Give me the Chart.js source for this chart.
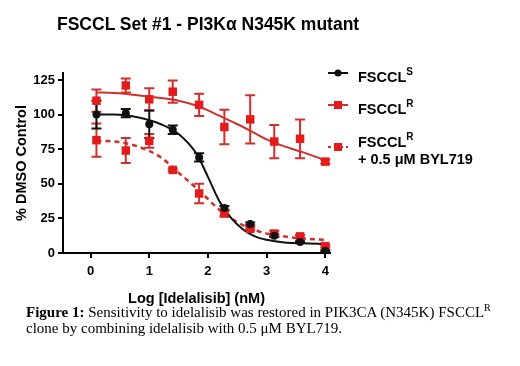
<!DOCTYPE html>
<html>
<head>
<meta charset="utf-8">
<script src="https://cdn.jsdelivr.net/npm/chart.js@4.4.0/dist/chart.umd.min.js"></script>
<style>
    body { margin: 0; background: #fff; }
    #wrap { position: relative; width: 520px; height: 366px; overflow: hidden; font-family: "Liberation Sans", Arial, sans-serif; }
    #chart { position: absolute; left: 0; top: 0; }
    .txt { position: absolute; white-space: nowrap; color: #000; }
    #title { left: 57px; top: 14px; font-size: 17.5px; font-weight: bold; }
    .leg { font-size: 14.5px; font-weight: bold; left: 358px; line-height: 17px; }
    .leg sup { font-size: 10px; position: relative; top: -1px; }
    #caption { left: 26px; top: 300px; font-family: "Liberation Serif", "Times New Roman", serif; font-size: 15px; line-height: 16px; }
    #caption sup { font-size: 10px; }
</style>
</head>
<body>
<div id="wrap">
    <canvas id="chart" width="520" height="366"></canvas>
    <div class="txt" id="title">FSCCL Set #1 - PI3K&alpha; N345K mutant</div>
    <div class="txt leg" style="top:64px">FSCCL<sup>S</sup></div>
    <div class="txt leg" style="top:96px">FSCCL<sup>R</sup></div>
    <div class="txt leg" style="top:129px">FSCCL<sup>R</sup><br>+ 0.5 &mu;M BYL719</div>
    <div class="txt" id="caption"><b>Figure 1:</b> Sensitivity to idelalisib was restored in PIK3CA (N345K) FSCCL<sup>R</sup><br>clone by combining idelalisib with 0.5 &mu;M BYL719.</div>
</div>
<script>
// measured points (log nM)
var logConc = [0.1, 0.6, 1.0, 1.4, 1.85, 2.28, 2.72, 3.13, 3.57, 4.0];

var sensMean = [100, 101, 93, 89, 69, 32.5, 21, 12.5, 8, 1.5];
var sensErr = [10, 3, 10, 3, 3, 1.5, 1, 1, 0.5, 0.5];

var resMean = [110, 121, 111, 116.5, 107, 91, 96.5, 80.5, 82.5, 66];
var resErr = [8, 5, 8, 8, 8, 12.5, 17.5, 12, 14, 1.5];

var combMean = [81.5, 74, 81, 60, 43, 28.5, 17.5, 14, 12, 5];
var combErr = [12, 9, 5, 1, 7, 2, 1, 2, 1, 1];

// fitted curves
var curveX = [0.1, 0.4, 0.8, 1.2, 1.5, 1.8, 2.0, 2.2, 2.4, 2.6, 2.8, 3.0, 3.3, 3.6, 4.0];
var sensCurve = [100, 100, 98, 93, 86, 72, 55, 37, 25, 17, 12, 9.5, 7.5, 7, 6.5];
var resCurve = [116, 115.5, 114, 112, 110, 106.5, 103, 99, 95, 91, 86.5, 82, 77, 73, 67];
var combCurve = [81, 80.5, 77, 69, 58, 47, 39, 31, 25, 20, 16.5, 14, 12, 10.5, 9.5];

var xTicks = [0, 1, 2, 3, 4];
var yTicks = [0, 25, 50, 75, 100, 125];

var black = '#111111';
var red = '#e31b1b';
var darkRed = '#d0302c';

function pts(xs, ys) {
    return xs.map(function (x, i) { return { x: x, y: ys[i] }; });
}

// draws error bars for the point datasets
var errorBars = {
    id: 'errorBars',
    beforeDatasetsDraw: function (chart) {
        var ctx = chart.ctx;
        var xs = chart.scales.x, ys = chart.scales.y;
        chart.data.datasets.forEach(function (ds) {
            if (!ds.errors) return;
            ctx.save();
            ctx.strokeStyle = ds.errorColor;
            ctx.lineWidth = 2;
            ds.data.forEach(function (p, i) {
                var e = ds.errors[i];
                var px = xs.getPixelForValue(p.x);
                var top = ys.getPixelForValue(p.y + e);
                var bot = ys.getPixelForValue(p.y - e);
                ctx.beginPath();
                ctx.moveTo(px, top); ctx.lineTo(px, bot);
                ctx.moveTo(px - 5, top); ctx.lineTo(px + 5, top);
                ctx.moveTo(px - 5, bot); ctx.lineTo(px + 5, bot);
                ctx.stroke();
            });
            ctx.restore();
        });
    }
};

// legend samples next to the html labels
var legendMarks = {
    id: 'legendMarks',
    afterDraw: function (chart) {
        var ctx = chart.ctx;
        function sample(y, color, dash, style) {
            ctx.save();
            ctx.strokeStyle = color;
            ctx.lineWidth = 2;
            ctx.setLineDash(dash);
            ctx.beginPath();
            ctx.moveTo(328, y); ctx.lineTo(348, y);
            ctx.stroke();
            ctx.setLineDash([]);
            ctx.fillStyle = style === 'circle' ? black : red;
            ctx.beginPath();
            if (style === 'circle') ctx.arc(338, y, 3.5, 0, Math.PI * 2);
            else ctx.rect(334, y - 4, 8, 8);
            ctx.fill();
            ctx.restore();
        }
        sample(73, black, [], 'circle');
        sample(105, darkRed, [], 'rect');
        sample(147, darkRed, [3, 3], 'rect');
    }
};

var ctx = document.getElementById('chart').getContext('2d');

var doseChart = new Chart(ctx, {
    type: 'scatter',
    data: {
        datasets: [
            {
                label: 'FSCCL S fit',
                data: pts(curveX, sensCurve),
                showLine: true,
                borderColor: black,
                borderWidth: 2,
                pointRadius: 0,
                cubicInterpolationMode: 'monotone',
                order: 5
            },
            {
                label: 'FSCCL R fit',
                data: pts(curveX, resCurve),
                showLine: true,
                borderColor: darkRed,
                borderWidth: 2,
                pointRadius: 0,
                cubicInterpolationMode: 'monotone',
                order: 5
            },
            {
                label: 'FSCCL R + BYL719 fit',
                data: pts(curveX, combCurve),
                showLine: true,
                borderColor: darkRed,
                borderWidth: 2.5,
                borderDash: [5, 4],
                pointRadius: 0,
                cubicInterpolationMode: 'monotone',
                order: 5
            },
            {
                label: 'FSCCL R + 0.5 uM BYL719',
                data: pts(logConc, combMean),
                errors: combErr,
                errorColor: darkRed,
                pointStyle: 'rect',
                pointRadius: 6,
                backgroundColor: red,
                borderColor: red,
                borderWidth: 0,
                order: 3
            },
            {
                label: 'FSCCL R',
                data: pts(logConc, resMean),
                errors: resErr,
                errorColor: darkRed,
                pointStyle: 'rect',
                pointRadius: 6,
                backgroundColor: red,
                borderColor: red,
                borderWidth: 0,
                order: 2
            },
            {
                label: 'FSCCL S',
                data: pts(logConc, sensMean),
                errors: sensErr,
                errorColor: black,
                pointStyle: 'circle',
                pointRadius: 4,
                backgroundColor: black,
                borderColor: black,
                borderWidth: 0,
                order: 1
            }
        ]
    },
    options: {
        responsive: false,
        animation: false,
        layout: { padding: { left: 0, top: 73, right: 190, bottom: 57 } },
        scales: {
            x: {
                type: 'linear',
                min: -0.47,
                max: 4.08,
                afterBuildTicks: function (scale) {
                    scale.ticks = xTicks.map(function (v) { return { value: v }; });
                },
                afterFit: function (scale) { scale.height = 56; },
                grid: { drawOnChartArea: false, drawTicks: true, tickLength: 5, color: '#000', lineWidth: 2 },
                border: { display: true, color: '#000', width: 2 },
                ticks: { color: '#000', font: { family: 'Liberation Sans', size: 13, weight: 'bold' }, padding: 6 },
                title: {
                    display: true,
                    text: 'Log [Idelalisib] (nM)',
                    color: '#000',
                    font: { family: 'Liberation Sans', size: 14.5, weight: 'bold' },
                    padding: { top: 0, bottom: 1 }
                }
            },
            y: {
                type: 'linear',
                min: 0,
                max: 130,
                afterBuildTicks: function (scale) {
                    scale.ticks = yTicks.map(function (v) { return { value: v }; });
                },
                afterFit: function (scale) { scale.width = 63; },
                grid: { drawOnChartArea: false, drawTicks: true, tickLength: 5, color: '#000', lineWidth: 2 },
                border: { display: true, color: '#000', width: 2 },
                ticks: { color: '#000', font: { family: 'Liberation Sans', size: 13, weight: 'bold' }, padding: 3 },
                title: {
                    display: true,
                    text: '% DMSO Control',
                    color: '#000',
                    font: { family: 'Liberation Sans', size: 14.5, weight: 'bold' },
                    padding: { top: 13, bottom: 0 }
                }
            }
        },
        plugins: {
            legend: { display: false },
            tooltip: { enabled: false }
        }
    },
    plugins: [errorBars, legendMarks]
});
</script>
</body>
</html>
